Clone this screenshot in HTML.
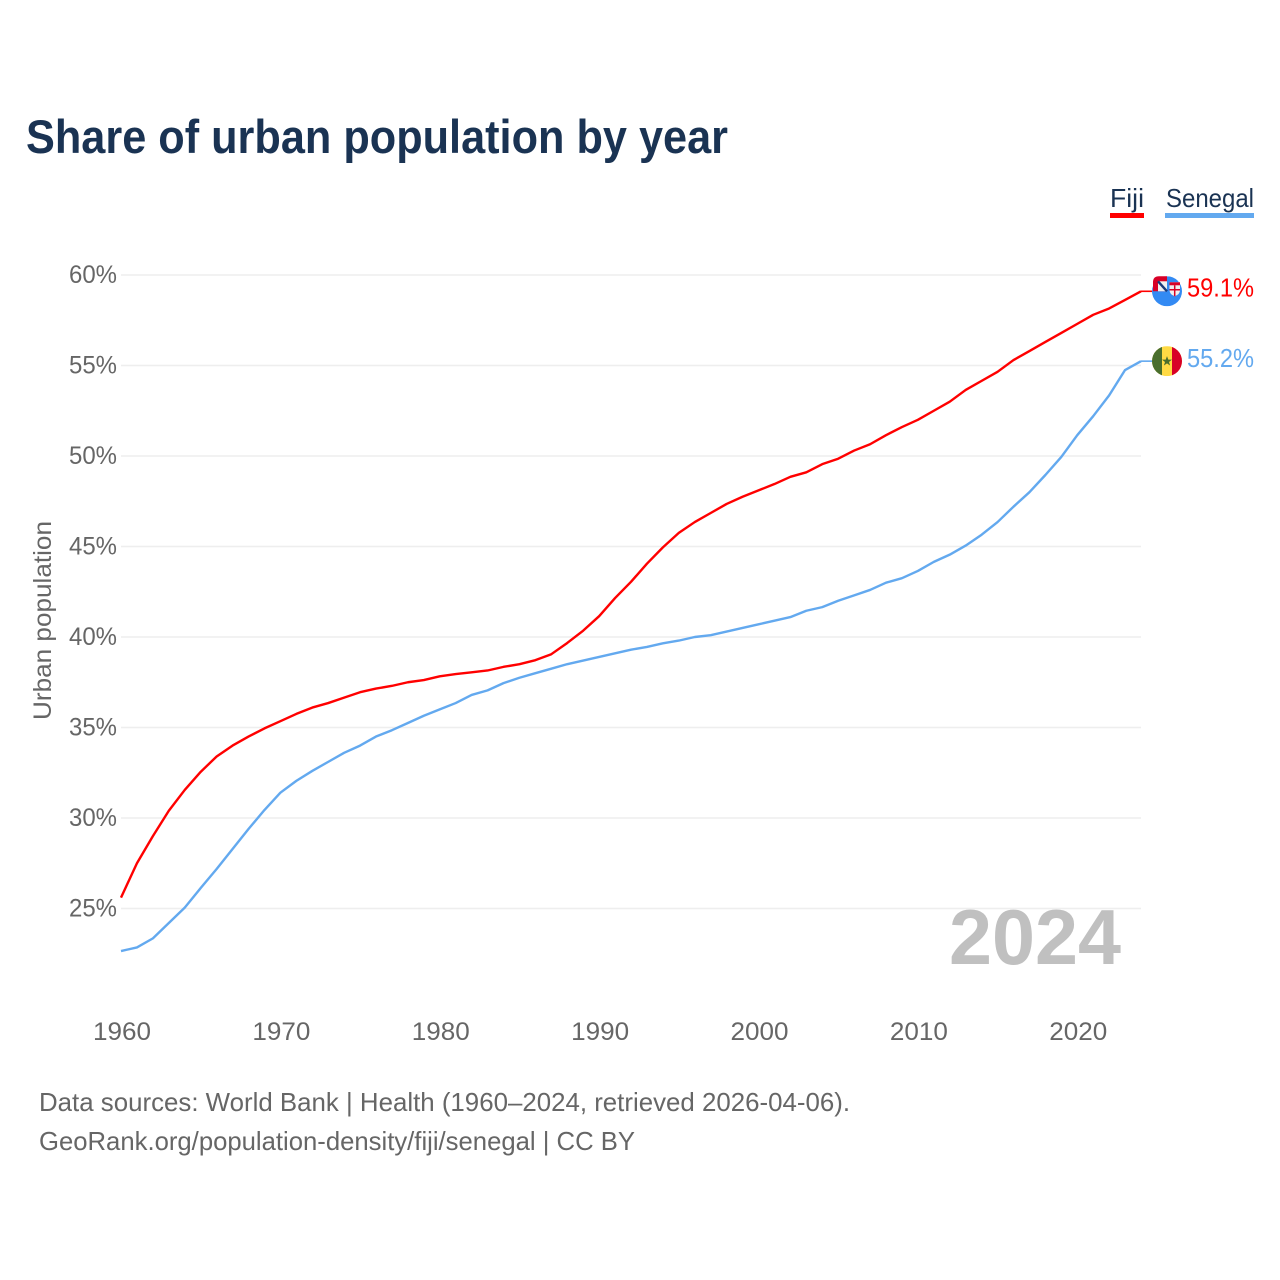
<!DOCTYPE html>
<html lang="en">
<head>
<meta charset="utf-8">
<title>Share of urban population by year</title>
<style>
  html, body { margin: 0; padding: 0; background: #fff; }
  svg { display: block; }
  text { font-family: "Liberation Sans", sans-serif; }
</style>
</head>
<body>
<svg id="chart" xmlns="http://www.w3.org/2000/svg" width="1280" height="1280" viewBox="0 0 1280 1280">
  <defs>
    <clipPath id="flag-clip"><circle cx="0" cy="0" r="15"></circle></clipPath>
  </defs>
  <rect x="0" y="0" width="1280" height="1280" fill="#ffffff"></rect>
  <text x="26" y="153" font-size="47" font-weight="700" fill="#1a3353" textLength="702" lengthAdjust="spacingAndGlyphs">Share of urban population by year</text>

  <g>
    <g>
      <text x="1110" y="207" font-size="26" fill="#1a3353" textLength="34" lengthAdjust="spacingAndGlyphs">Fiji</text>
      <rect x="1110" y="213" width="34" height="5" fill="#ff0000"></rect>
    </g>
    <g>
      <text x="1166" y="207" font-size="26" fill="#1a3353" textLength="88" lengthAdjust="spacingAndGlyphs">Senegal</text>
      <rect x="1165" y="213" width="89" height="5" fill="#63a9ef"></rect>
    </g>
  </g>

  <g id="grid"></g>
  <g id="y-ticks"></g>
  <g id="x-ticks"></g>

  <text transform="translate(51,720) rotate(-90)" x="0" y="0" font-size="25" fill="#666666" textLength="199" lengthAdjust="spacingAndGlyphs">Urban population</text>

  <text id="year-watermark" x="949" y="964" font-size="78" font-weight="700" fill="#c0c0c0" textLength="172" lengthAdjust="spacingAndGlyphs"></text>

  <g id="series"></g>

  <g id="flag-fiji">
    <g clip-path="url(#flag-clip)">
      <rect x="-15" y="-15" width="30" height="30" fill="#338af3"></rect>
    </g>
    <path d="M-14,0 V-9 Q-14,-15 -8,-15 H0 V0 Z" fill="#d80027"></path>
    <rect x="-9" y="-10" width="9" height="10" fill="#f0f0f0"></rect>
    <path d="M-9,-10 L0,0" stroke="#1a3a7a" stroke-width="2.4" fill="none"></path>
    <path d="M2.5,-9 H13 V-1 Q13,3 7.7,5 Q2.5,3 2.5,-1 Z" fill="#f0f0f0"></path>
    <rect x="2.5" y="-9" width="10.5" height="3" fill="#d80027"></rect>
    <path d="M7.7,-6 V5 M2.5,-1.5 H13" stroke="#d80027" stroke-width="1.5" fill="none"></path>
  </g>

  <g id="flag-senegal">
    <g clip-path="url(#flag-clip)">
      <rect x="-15" y="-15" width="30" height="30" fill="#ffda44"></rect>
      <rect x="-15" y="-15" width="10" height="30" fill="#496e2d"></rect>
      <rect x="5" y="-15" width="10" height="30" fill="#d80027"></rect>
      <path d="M0,-5 L1.3,-1.5 L5,-1.5 L2,0.8 L3.1,4.3 L0,2.2 L-3.1,4.3 L-2,0.8 L-5,-1.5 L-1.3,-1.5 Z" fill="#496e2d"></path>
    </g>
  </g>

  <text id="value-fiji" x="1187" font-size="26" fill="#ff0000" textLength="67" lengthAdjust="spacingAndGlyphs"></text>
  <text id="value-senegal" x="1187" font-size="26" fill="#63a9ef" textLength="67" lengthAdjust="spacingAndGlyphs"></text>

  <g>
    <text x="39" y="1111" font-size="26" fill="#666666" textLength="811" lengthAdjust="spacingAndGlyphs">Data sources: World Bank | Health (1960–2024, retrieved 2026-04-06).</text>
    <text x="39" y="1150" font-size="26" fill="#666666" textLength="596" lengthAdjust="spacingAndGlyphs">GeoRank.org/population-density/fiji/senegal | CC BY</text>
  </g>
</svg>

<script>
const startYear = 1960;
const yTickValues = [60, 55, 50, 45, 40, 35, 30, 25];
const xTickYears = [1960, 1970, 1980, 1990, 2000, 2010, 2020];
const fijiValues = [
  25.6, 27.5, 29.0, 30.4, 31.55, 32.55, 33.4, 34.0, 34.5, 34.95,
  35.35, 35.75, 36.1, 36.35, 36.65, 36.95, 37.15, 37.3, 37.5, 37.62,
  37.83, 37.95, 38.05, 38.15, 38.35, 38.5, 38.72, 39.05, 39.67, 40.35,
  41.15, 42.15, 43.05, 44.05, 44.95, 45.75, 46.35, 46.85, 47.35, 47.75,
  48.1, 48.45, 48.85, 49.1, 49.55, 49.85, 50.3, 50.65, 51.15, 51.6,
  52.0, 52.5, 53.0, 53.65, 54.15, 54.65, 55.3, 55.8, 56.3, 56.8,
  57.3, 57.8, 58.15, 58.62, 59.1
];
const senegalValues = [
  22.65, 22.85, 23.35, 24.2, 25.05, 26.13, 27.18, 28.29, 29.39, 30.44,
  31.4, 32.05, 32.6, 33.1, 33.6, 34.0, 34.5, 34.85, 35.25, 35.65,
  36.0, 36.35, 36.8, 37.05, 37.45, 37.75, 38.0, 38.25, 38.5, 38.7,
  38.9, 39.1, 39.3, 39.45, 39.65, 39.8, 40.0, 40.1, 40.3, 40.5,
  40.7, 40.9, 41.1, 41.45, 41.65, 42.0, 42.3, 42.6, 43.0, 43.25,
  43.65, 44.15, 44.55, 45.05, 45.65, 46.35, 47.2, 48.0, 48.95, 49.95,
  51.15, 52.2, 53.35, 54.75, 55.24
];

const SVG_NS = 'http://www.w3.org/2000/svg';
function xScale(year) { return 121 + (year - 1960) * (1141 - 121) / 64; }
function yScale(value) { return 275 + (60 - value) * (908.5 - 275) / 35; }
function make(tag, parent) {
  const el = document.createElementNS(SVG_NS, tag);
  parent.appendChild(el);
  return el;
}

const gridGroup = document.getElementById('grid');
const yTickGroup = document.getElementById('y-ticks');
const xTickGroup = document.getElementById('x-ticks');
const seriesGroup = document.getElementById('series');

yTickValues.forEach(function (v) {
  const line = make('line', gridGroup);
  
  
  line.setAttribute('x1', 121);
  line.setAttribute('x2', 1141);
  line.setAttribute('y1', yScale(v));
  line.setAttribute('y2', yScale(v));
  line.setAttribute('stroke', '#eeeeee');
  line.setAttribute('stroke-width', 1.6);

  const label = make('text', yTickGroup);
  
  
  label.setAttribute('x', 69);
  label.setAttribute('y', yScale(v) + 8);
  label.setAttribute('font-size', 25);
  label.setAttribute('fill', '#666666');
  label.setAttribute('textLength', 48);
  label.setAttribute('lengthAdjust', 'spacingAndGlyphs');
  label.textContent = v + '%';
});

xTickYears.forEach(function (yr) {
  const label = make('text', xTickGroup);
  
  
  label.setAttribute('x', xScale(yr) - 28);
  label.setAttribute('y', 1040);
  label.setAttribute('font-size', 25);
  label.setAttribute('fill', '#666666');
  label.setAttribute('textLength', 58);
  label.setAttribute('lengthAdjust', 'spacingAndGlyphs');
  label.textContent = yr;
});

function drawSeries(values, color, lineName, connectorName) {
  const pts = values.map(function (v, i) {
    return xScale(startYear + i).toFixed(2) + ',' + yScale(v).toFixed(2);
  }).join(' ');
  const line = make('polyline', seriesGroup);
  
  
  line.setAttribute('points', pts);
  line.setAttribute('fill', 'none');
  line.setAttribute('stroke', color);
  line.setAttribute('stroke-width', 2.4);
  line.setAttribute('stroke-linejoin', 'round');

  const last = values.length - 1;
  const connector = make('line', seriesGroup);
  
  
  connector.setAttribute('x1', xScale(startYear + last));
  connector.setAttribute('x2', xScale(startYear + last) + 12);
  connector.setAttribute('y1', yScale(values[last]));
  connector.setAttribute('y2', yScale(values[last]));
  connector.setAttribute('stroke', color);
  connector.setAttribute('stroke-width', 1.6);
}

drawSeries(fijiValues, '#ff0000', 'line-fiji', 'connector-fiji');
drawSeries(senegalValues, '#63a9ef', 'line-senegal', 'connector-senegal');

function placeEnd(values, flagId, valueId, baselineOffset) {
  const lastValue = values[values.length - 1];
  const y = yScale(lastValue);
  document.getElementById(flagId).setAttribute('transform', 'translate(1167,' + y + ')');
  const text = document.getElementById(valueId);
  text.setAttribute('y', y + baselineOffset);
  text.textContent = lastValue.toFixed(1) + '%';
}
placeEnd(fijiValues, 'flag-fiji', 'value-fiji', 5);
placeEnd(senegalValues, 'flag-senegal', 'value-senegal', 6);

document.getElementById('year-watermark').textContent = startYear + fijiValues.length - 1;
</script>
</body>
</html>
